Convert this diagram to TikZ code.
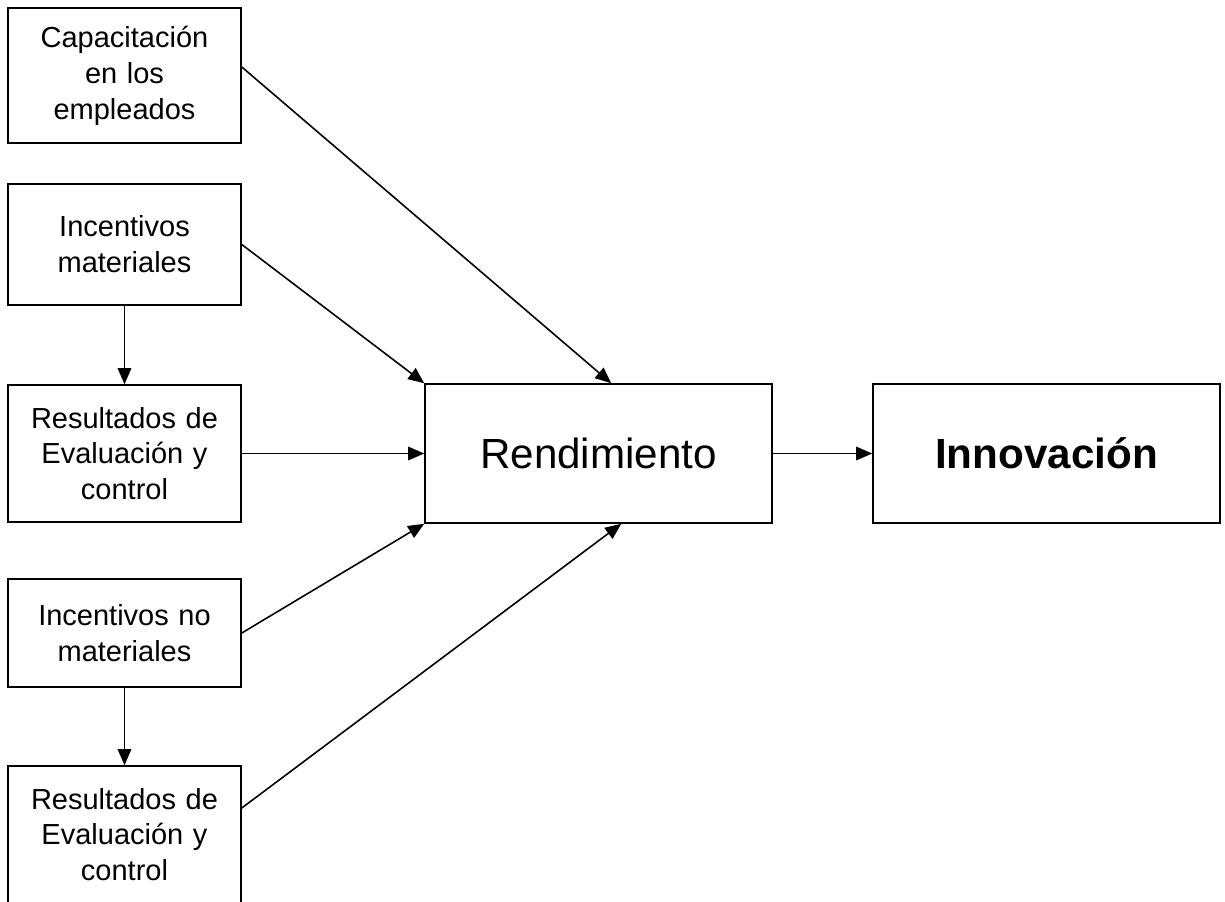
\documentclass[tikz,border=0pt]{standalone}
\usepackage{fontspec}
\setmainfont{Liberation Sans}
\usetikzlibrary{arrows.meta, positioning}
\tikzstyle{arrow} = [line width=0.9pt,-{Triangle[length=0.32cm,width=0.27cm]}]
\tikzstyle{factor} = [rectangle, draw=black, line width=0.9pt, minimum width=4.66cm, text width=4.4cm, align=center, font=\fontsize{16.5}{20.4}\selectfont]
\tikzstyle{result} = [rectangle, draw=black, line width=0.9pt, minimum width=6.94cm, minimum height=2.78cm, align=center, font=\fontsize{24}{29}\selectfont]

\begin{document}
\begin{tikzpicture}[node distance=3.5cm]
\useasboundingbox (0,0) rectangle (24.5,-18.04);
% Placement of nodes
\node (capac) [factor, minimum height=2.70cm] at (2.49,-1.51) {Capacitación\\ en los\\ empleados};
\node (incMat) [factor, minimum height=2.42cm, below of=capac, yshift=0.12cm] {Incentivos\\ materiales};
\node (resA) [factor, minimum height=2.74cm, below of=incMat, yshift=-0.68cm] {Resultados de\\ Evaluación y\\ control};
\node (incNoMat) [factor, minimum height=2.16cm, below of=resA, yshift=-0.09cm] {Incentivos no\\ materiales};
\node (resB) [factor, minimum height=2.74cm, below of=incNoMat, yshift=-0.53cm] {Resultados de\\ Evaluación y\\ control};
\node (rend) [result, right of=resA, xshift=5.98cm] {Rendimiento};
\node (innov) [result, right of=rend, xshift=5.46cm] {\bfseries Innovación};

% Placement of edges
\draw [arrow] ([yshift=0.17cm]capac.east) -- ([xshift=3.74cm]rend.north west);
\draw [arrow] (incMat.east) -- (rend.north west);
\draw [arrow] (resA.east) -- (rend.west);
\draw [arrow] (incNoMat.east) -- (rend.south west);
\draw [arrow] ([yshift=0.53cm]resB.east) -- ([xshift=3.94cm]rend.south west);
\draw [arrow] (incMat) -- (resA);
\draw [arrow] (incNoMat) -- (resB);
\draw [arrow] (rend) -- (innov);
\end{tikzpicture}
\end{document}
